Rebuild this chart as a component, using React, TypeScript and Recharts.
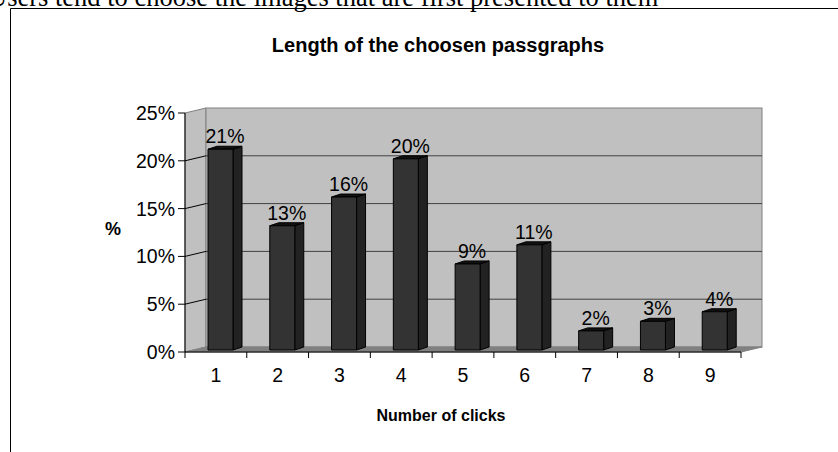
import React from 'react'
import { Bar, BarChart, LabelList, ReferenceArea, ReferenceLine, XAxis, YAxis } from 'recharts'

const clicks = ['1', '2', '3', '4', '5', '6', '7', '8', '9']
const share = [21, 13, 16, 20, 9, 11, 2, 3, 4]
const yTicks = [0, 5, 10, 15, 20, 25]
const gridValues = [5, 10, 15, 20]

const data = clicks.map((c, i) => ({ clicks: c, share: share[i] }))

const FONT = 'Arial, "Liberation Sans", sans-serif'
const SERIF = '"Times New Roman", "Liberation Serif", serif'

// 3D look: back wall sits behind the front plane, bars sit half way in
const DEPTH_X = 21
const DEPTH_Y = -5
const BAR_DX = 5
const BAR_DY = -2
const SIDE_X = 9
const SIDE_Y = -3

function Walls(props: any) {
  const { x, y, width, height } = props
  const bx = x + DEPTH_X
  const by = y + DEPTH_Y
  const bottom = y + height
  return (
    <g>
      <polygon
        points={`${x},${y} ${bx},${by} ${bx},${by + height} ${x},${bottom}`}
        fill="#c0c0c0"
        stroke="#808080"
      />
      <rect x={bx} y={by} width={width} height={height} fill="#c0c0c0" stroke="#808080" />
      <polygon
        points={`${x},${bottom} ${bx},${bottom + DEPTH_Y} ${bx + width},${bottom + DEPTH_Y} ${x + width},${bottom}`}
        fill="#808080"
        stroke="#808080"
      />
    </g>
  )
}

function GridLine(props: any) {
  const { x1, y1, x2 } = props
  return (
    <g>
      <line x1={x1} y1={y1} x2={x1 + DEPTH_X} y2={y1 + DEPTH_Y} stroke="#000" />
      <line x1={x1 + DEPTH_X} y1={y1 + DEPTH_Y} x2={x2 + DEPTH_X} y2={y1 + DEPTH_Y} stroke="#404040" />
    </g>
  )
}

function Column(props: any) {
  const { x, y, width, height } = props
  const fx = x + BAR_DX
  const fy = y + BAR_DY
  const rx = fx + width
  return (
    <g stroke="#000" strokeWidth={1} strokeLinejoin="round">
      <polygon
        points={`${rx},${fy} ${rx + SIDE_X},${fy + SIDE_Y} ${rx + SIDE_X},${fy + height + SIDE_Y} ${rx},${fy + height}`}
        fill="#222222"
      />
      <polygon
        points={`${fx},${fy} ${fx + SIDE_X},${fy + SIDE_Y} ${rx + SIDE_X},${fy + SIDE_Y} ${rx},${fy}`}
        fill="#111111"
      />
      <rect x={fx} y={fy} width={width} height={height} fill="#333333" />
    </g>
  )
}

function ShareLabel(props: any) {
  const { x, y, width, value } = props
  return (
    <text
      x={x + BAR_DX + (width + SIDE_X) / 2}
      y={y + BAR_DY + SIDE_Y - 3}
      textAnchor="middle"
      fontFamily={FONT}
      fontSize={19.5}
      fill="#000"
    >
      {`${value}%`}
    </text>
  )
}

function ClickTick(props: any) {
  const { x, y, payload, index, visibleTicksCount } = props
  const half = payload.offset ?? 31
  const last = index === visibleTicksCount - 1
  return (
    <g>
      <line x1={x - half} y1={y} x2={x - half} y2={y + 6} stroke="#000" />
      {last && <line x1={x + half} y1={y} x2={x + half} y2={y + 6} stroke="#000" />}
      <text x={x} y={y + 30} textAnchor="middle" fontFamily={FONT} fontSize={19.5} fill="#000">
        {payload.value}
      </text>
    </g>
  )
}

export default function App() {
  return (
    <div style={{ position: 'absolute', left: 0, top: 0, width: 838, height: 452, overflow: 'hidden', background: '#fff' }}>
      <svg width={838} height={452} style={{ position: 'absolute', left: 0, top: 0 }}>
        <text x={-12} y={6} fontFamily={SERIF} fontSize={26.5} fill="#000">
          Users tend to choose the images that are first presented to them
        </text>
        <polyline points="10.5,460 10.5,8.5 850,8.5" fill="none" stroke="#000" />
        <text x={438} y={52} textAnchor="middle" fontFamily={FONT} fontWeight="bold" fontSize={20} fill="#000">
          Length of the choosen passgraphs
        </text>
      </svg>
      <div style={{ position: 'absolute', left: 0, top: 0 }}>
        <BarChart
          width={838}
          height={452}
          data={data}
          margin={{ top: 113, right: 97, bottom: 70, left: 125 }}
          barSize={25}
        >
          <ReferenceArea y1={0} y2={25} shape={<Walls />} ifOverflow="visible" zIndex={-95} />
          {gridValues.map(v => (
            <ReferenceLine key={v} y={v} shape={<GridLine />} ifOverflow="visible" zIndex={-90} />
          ))}
          <XAxis
            dataKey="clicks"
            height={30}
            tickLine={false}
            tickSize={0}
            tickMargin={0}
            axisLine={{ stroke: '#000' }}
            tick={<ClickTick />}
            interval={0}
            label={{
              content: () => (
                <text x={441} y={421} textAnchor="middle" fontFamily={FONT} fontWeight="bold" fontSize={16} fill="#000">
                  Number of clicks
                </text>
              ),
            }}
          />
          <YAxis
            width={60}
            domain={[0, 25]}
            ticks={yTicks}
            tickFormatter={v => `${v}%`}
            tickSize={7}
            tickMargin={3}
            tickLine={{ stroke: '#000' }}
            axisLine={{ stroke: '#000' }}
            tick={{ fontFamily: FONT, fontSize: 19.5, fill: '#000' }}
            label={{
              content: () => (
                <text x={113} y={235} textAnchor="middle" fontFamily={FONT} fontWeight="bold" fontSize={18} fill="#000">
                  %
                </text>
              ),
            }}
          />
          <Bar dataKey="share" shape={<Column />} isAnimationActive={false}>
            <LabelList dataKey="share" content={<ShareLabel />} />
          </Bar>
        </BarChart>
      </div>
    </div>
  )
}
